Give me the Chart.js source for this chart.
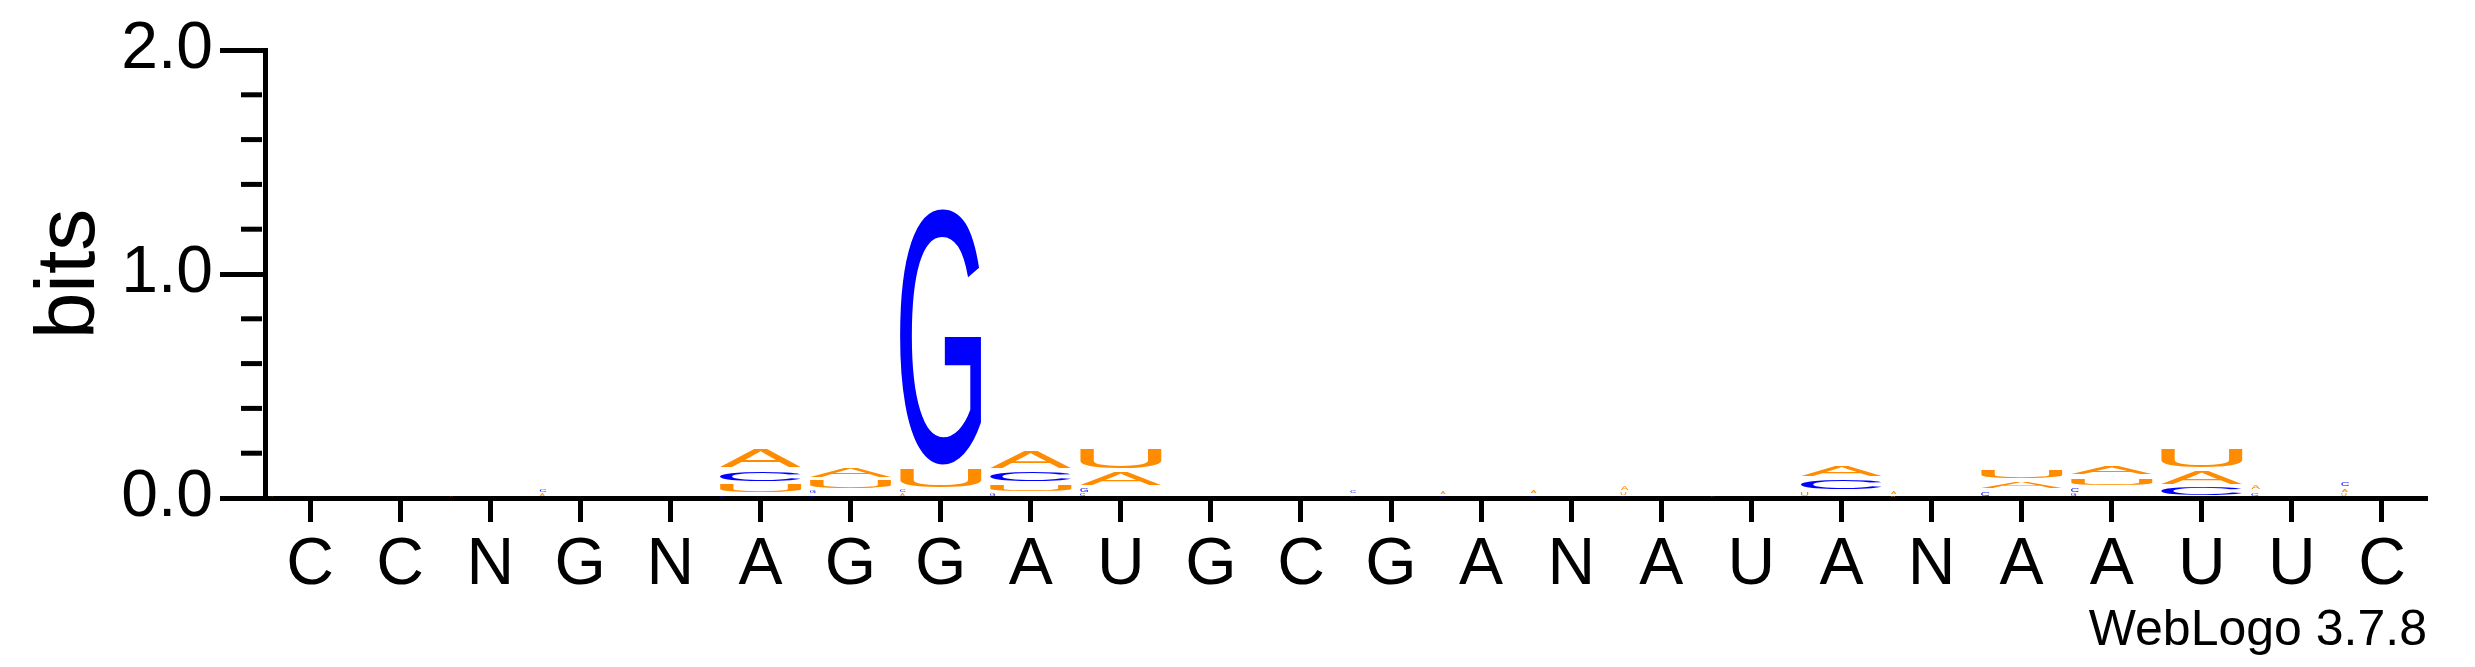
<!DOCTYPE html>
<html>
<head>
<meta charset="utf-8">
<title>WebLogo</title>
<script src="https://cdn.jsdelivr.net/npm/chart.js@4.4.0/dist/chart.umd.min.js"></script>
<style>
  html, body { margin: 0; padding: 0; background: #fff; }
  #wrap { width: 2475px; height: 667px; position: relative; }
</style>
</head>
<body>
<div id="wrap"><canvas id="logo"></canvas></div>
<script>
// consensus letters shown under each column
var positions = ['C','C','N','G','N','A','G','G','A','U','G','C','G','A','N','A','U','A','N','A','A','U','U','C'];

// letter heights in bits, one value per column
var bitsA = [0.015, 0, 0.012, 0.02, 0, 0.096, 0.06, 0.02, 0.095, 0.075, 0, 0, 0.015, 0.018, 0.022, 0.03, 0.015, 0.065, 0.02, 0.045, 0.05, 0.075, 0.035, 0.025];
var bitsC = [0, 0, 0, 0.025, 0, 0.059, 0.015, 0.02, 0.06, 0.02, 0, 0, 0.02, 0.012, 0.015, 0.01, 0, 0.06, 0, 0.035, 0.03, 0.055, 0.03, 0.03];
var bitsG = [0, 0, 0, 0, 0, 0.016, 0.02, 1.16, 0.02, 0.03, 0, 0, 0, 0, 0, 0, 0, 0, 0, 0, 0.02, 0, 0, 0];
var bitsU = [0, 0, 0, 0, 0, 0.052, 0.05, 0.1, 0.045, 0.105, 0, 0, 0, 0, 0, 0.02, 0, 0.03, 0.015, 0.05, 0.046, 0.1, 0, 0.02];

var yMax = 2.0;
var yStep = 0.2;
var creditText = 'WebLogo 3.7.8';

var colores = { A: '#ff8c00', U: '#ff8c00', G: '#0000ff', C: '#0000ff' };
var fuente = '"Liberation Sans", Arial, Helvetica, sans-serif';

// build one stacked layer per rank (smallest letter at the bottom)
function armarCapas() {
  var porLetra = { A: bitsA, C: bitsC, G: bitsG, U: bitsU };
  var capas = [];
  for (var r = 0; r < 4; r++) capas.push({ data: [], letters: [] });
  for (var i = 0; i < positions.length; i++) {
    var col = ['A', 'C', 'G', 'U'].map(function (l) { return { l: l, v: porLetra[l][i] }; });
    col.sort(function (a, b) { return a.v - b.v; });
    for (var r = 0; r < 4; r++) {
      capas[r].data.push(col[r].v);
      capas[r].letters.push(col[r].l);
    }
  }
  return capas.map(function (c, r) {
    return {
      label: 'rank ' + (r + 1),
      data: c.data,
      letters: c.letters,
      backgroundColor: 'rgba(0,0,0,0)',
      borderWidth: 0,
      categoryPercentage: 1.0,
      barPercentage: 0.9
    };
  });
}

// letter stretched so its ink fills the box
function dibujarLetra(ctx, letra, x, y, w, h, color) {
  ctx.save();
  ctx.font = '200px ' + fuente;
  ctx.textAlign = 'left';
  ctx.textBaseline = 'alphabetic';
  var m = ctx.measureText(letra);
  var inkW = m.actualBoundingBoxLeft + m.actualBoundingBoxRight;
  var inkH = m.actualBoundingBoxAscent + m.actualBoundingBoxDescent;
  ctx.translate(x, y);
  ctx.scale(w / inkW, h / inkH);
  ctx.fillStyle = color;
  ctx.fillText(letra, m.actualBoundingBoxLeft, m.actualBoundingBoxAscent);
  ctx.restore();
}

var pluginLetras = {
  id: 'pluginLetras',
  afterDatasetsDraw: function (chart) {
    var ctx = chart.ctx;
    chart.data.datasets.forEach(function (ds, di) {
      var meta = chart.getDatasetMeta(di);
      meta.data.forEach(function (bar, i) {
        var letra = ds.letters[i];
        if (!ds.data[i]) return;
        var p = bar.getProps(['x', 'y', 'base', 'width'], true);
        var top = Math.min(p.y, p.base);
        var h = Math.abs(p.base - p.y);
        var left = p.x - p.width / 2;
        var w = p.width;
        if (h >= 8) {
          top += 2; h -= 4;
        } else {
          // tiny letters come out as small marks at the column's left edge
          var gh = Math.max(1, h * 0.5);
          top += (h - gh) / 2; h = gh; w = gh * 2 + 1;
        }
        dibujarLetra(ctx, letra, left, top, w, h, colores[letra]);
      });
    });
  }
};

// short minor ticks on the y axis
var pluginMenores = {
  id: 'pluginMenores',
  afterDraw: function (chart) {
    var s = chart.scales.y;
    var ctx = chart.ctx;
    ctx.save();
    ctx.strokeStyle = '#000';
    ctx.lineWidth = 5;
    s.ticks.forEach(function (t) {
      if (Math.abs(t.value - Math.round(t.value)) < 1e-6) return;
      var py = s.getPixelForValue(t.value);
      ctx.beginPath();
      ctx.moveTo(s.right - 24, py);
      ctx.lineTo(s.right - 3, py);
      ctx.stroke();
    });
    ctx.restore();
  }
};

document.addEventListener('DOMContentLoaded', function () {
  var ctx = document.getElementById('logo').getContext('2d');
  new Chart(ctx, {
    type: 'bar',
    data: { labels: positions, datasets: armarCapas() },
    options: {
      responsive: true,
      maintainAspectRatio: false,
      devicePixelRatio: 1,
      animation: false,
      layout: { padding: { top: 50, right: 48, bottom: 0, left: 0 } },
      plugins: { legend: { display: false }, tooltip: { enabled: false } },
      scales: {
        x: {
          stacked: true,
          afterFit: function (scale) { scale.height = 169; },
          grid: { drawOnChartArea: false, offset: false, tickLength: 24, tickWidth: 5, tickColor: '#000' },
          border: { display: true, width: 5, color: '#000' },
          ticks: { color: '#000', font: { family: fuente, size: 66 }, padding: 4, maxRotation: 0, autoSkip: false },
          title: { display: true, text: creditText, align: 'end', color: '#000', font: { family: fuente, size: 50 }, padding: { top: 0, bottom: 6 } }
        },
        y: {
          stacked: true,
          min: 0,
          max: yMax,
          afterFit: function (scale) { scale.width = 265; },
          grid: {
            drawOnChartArea: false, tickLength: 45, tickWidth: 5,
            tickColor: function (c) { return Math.abs(c.tick.value - Math.round(c.tick.value)) < 1e-6 ? '#000' : 'rgba(0,0,0,0)'; }
          },
          border: { display: true, width: 5, color: '#000' },
          ticks: {
            stepSize: yStep, autoSkip: false, color: '#000', padding: 7,
            font: { family: fuente, size: 66 },
            callback: function (v) { return Math.abs(v - Math.round(v)) < 1e-6 ? v.toFixed(1) : ''; }
          },
          title: { display: true, text: 'bits', color: '#000', font: { family: fuente, size: 84 }, padding: { top: 20, bottom: 0 } }
        }
      }
    },
    plugins: [pluginLetras, pluginMenores]
  });
});
</script>
</body>
</html>
